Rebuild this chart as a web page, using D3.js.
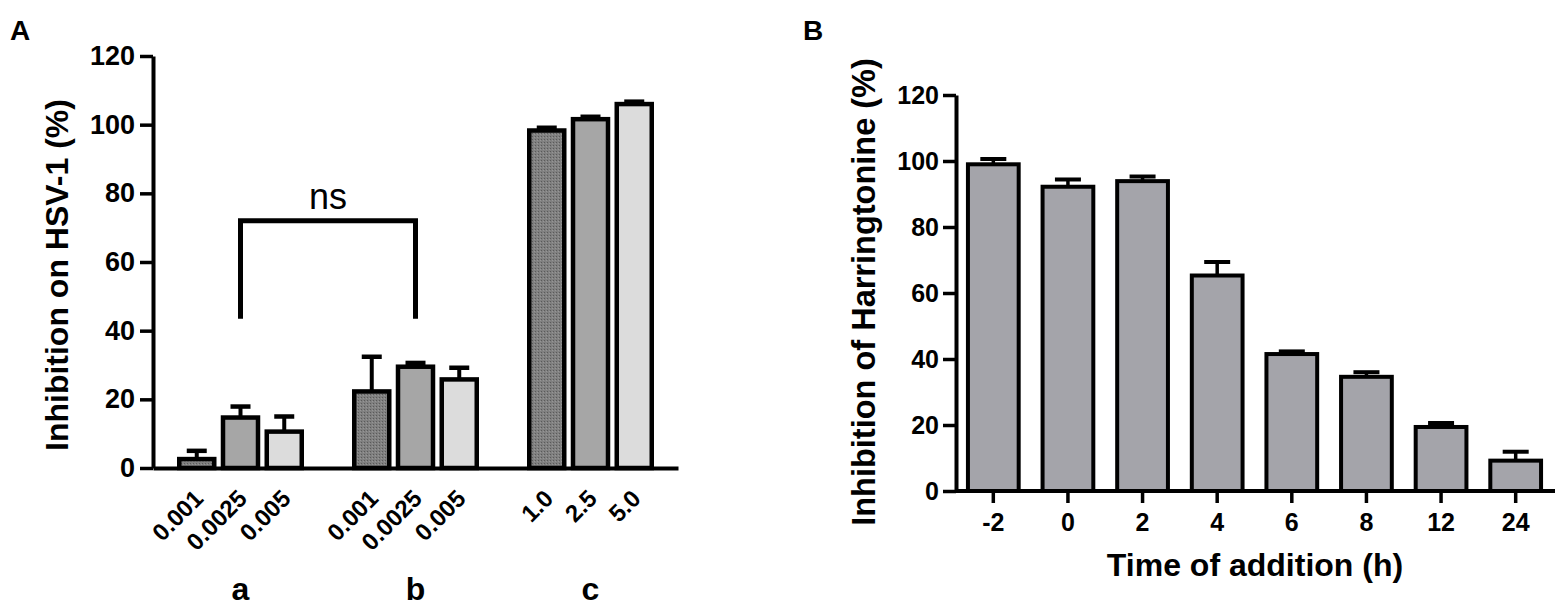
<!DOCTYPE html>
<html lang="en">
<head>
<meta charset="UTF-8">
<title>Inhibition charts</title>
<script src="https://cdnjs.cloudflare.com/ajax/libs/d3/7.8.5/d3.min.js"></script>
<style>
  * { margin: 0; padding: 0; }
  body { background: #fff; font-family: "Liberation Sans", Arial, sans-serif; }
  text { font-weight: bold; fill: #000; }
  text.ns { font-weight: normal; }
</style>
</head>
<body>
<svg id="chart" width="1562" height="608"></svg>
<script>
// ---- panel A data ----
const groupsA = ["a", "b", "c"];
const concLabels = [
  ["0.001", "0.0025", "0.005"],
  ["0.001", "0.0025", "0.005"],
  ["1.0", "2.5", "5.0"]
];
const meanA = [
  [2.6, 14.7, 10.6],
  [22.3, 29.5, 25.8],
  [98.3, 101.6, 106.0]
];
const semA = [
  [2.4, 3.2, 4.4],
  [10.1, 1.1, 3.4],
  [0.8, 0.7, 0.7]
];
const ticksA = [0, 20, 40, 60, 80, 100, 120];

// ---- panel B data ----
const timesB = ["-2", "0", "2", "4", "6", "8", "12", "24"];
const meanB = [99.0, 92.2, 93.9, 65.3, 41.5, 34.6, 19.4, 9.2];
const semB = [1.6, 2.2, 1.4, 4.1, 0.8, 1.4, 1.2, 2.7];
const ticksB = [0, 20, 40, 60, 80, 100, 120];

const svg = d3.select("#chart");

// stippled fill for the darkest bars
const pat = svg.append("defs").append("pattern")
  .attr("id", "stipple").attr("width", 3).attr("height", 3)
  .attr("patternUnits", "userSpaceOnUse");
pat.append("rect").attr("width", 3).attr("height", 3).attr("fill", "#808080");
pat.append("rect").attr("x", 1).attr("y", 1).attr("width", 1).attr("height", 1).attr("fill", "#5a5a5a");
pat.append("rect").attr("x", 0).attr("y", 2).attr("width", 1).attr("height", 1).attr("fill", "#969696");

const fillsA = ["url(#stipple)", "#a6a6a6", "#dcdcdc"];

function styleAxis(g, fs) {
  g.select(".domain").attr("stroke", "#000").attr("stroke-width", 4);
  g.selectAll(".tick line").attr("stroke", "#000").attr("stroke-width", 3.5);
  g.selectAll(".tick text")
    .attr("font-family", "'Liberation Sans', Arial, sans-serif")
    .attr("font-size", fs).attr("fill", "#000");
}

// ================= Panel A =================
const yA = d3.scaleLinear().domain([0, 120]).range([468, 56]);
const gx = d3.scaleBand().domain(groupsA).range([153, 678]);
const inner = d3.scaleBand().domain([0, 1, 2]).range([0, gx.bandwidth()])
  .paddingInner(0.2).paddingOuter(0.6);

svg.append("text").attr("x", 10).attr("y", 40).attr("font-size", 28).text("A");

const axA = svg.append("g").attr("transform", "translate(153,0)")
  .call(d3.axisLeft(yA).tickValues(ticksA).tickSize(13).tickSizeOuter(0).tickPadding(5));
styleAxis(axA, 27);

svg.append("text")
  .attr("transform", "translate(68,275) rotate(-90)")
  .attr("text-anchor", "middle").attr("font-size", 32)
  .text("Inhibition on HSV-1 (%)");

const barsA = [];
groupsA.forEach((g, gi) => {
  meanA[gi].forEach((v, i) => {
    barsA.push({ g, gi, i, v, e: semA[gi][i], label: concLabels[gi][i] });
  });
});
const cxA = d => gx(d.g) + inner(d.i) + inner.bandwidth() / 2;

const gA = svg.append("g");
// error bars (upper only)
gA.selectAll("line.err").data(barsA).join("line")
  .attr("x1", cxA).attr("x2", cxA)
  .attr("y1", d => yA(d.v)).attr("y2", d => yA(d.v + d.e))
  .attr("stroke", "#000").attr("stroke-width", 4);
gA.selectAll("line.cap").data(barsA).join("line")
  .attr("x1", d => cxA(d) - 10).attr("x2", d => cxA(d) + 10)
  .attr("y1", d => yA(d.v + d.e)).attr("y2", d => yA(d.v + d.e))
  .attr("stroke", "#000").attr("stroke-width", 4.5);
gA.selectAll("rect").data(barsA).join("rect")
  .attr("x", d => gx(d.g) + inner(d.i))
  .attr("y", d => yA(d.v))
  .attr("width", inner.bandwidth())
  .attr("height", d => yA(0) - yA(d.v))
  .attr("fill", d => fillsA[d.i])
  .attr("stroke", "#000").attr("stroke-width", 4.5);

// x axis line + group letters
const axAx = svg.append("g").attr("transform", "translate(0,468)")
  .call(d3.axisBottom(gx).tickSize(0).tickSizeOuter(0).tickPadding(0));
styleAxis(axAx, 32);
axAx.selectAll(".tick text").attr("dy", null).attr("y", 132);

// concentration labels, rotated
gA.selectAll("text.conc").data(barsA).join("text")
  .attr("class", "conc")
  .attr("transform", d => `translate(${cxA(d) + 8},${yA(0) + 32}) rotate(-45)`)
  .attr("text-anchor", "end").attr("font-size", 24)
  .text(d => d.label);

// significance bracket
const brL = gx("a") + inner(1) + inner.bandwidth() / 2;
const brR = gx("b") + inner(1) + inner.bandwidth() / 2;
svg.append("path")
  .attr("d", d3.line()([[brL, yA(43.5)], [brL, yA(72)], [brR, yA(72)], [brR, yA(43.5)]]))
  .attr("fill", "none").attr("stroke", "#000").attr("stroke-width", 5);
svg.append("text").attr("class", "ns")
  .attr("x", (brL + brR) / 2).attr("y", yA(75.5))
  .attr("text-anchor", "middle").attr("font-size", 36)
  .text("ns");

// ================= Panel B =================
const yB = d3.scaleLinear().domain([0, 120]).range([491, 95]);
const xB = d3.scaleBand().domain(timesB).range([956, 1553]).paddingInner(0.32).paddingOuter(0.16);

svg.append("text").attr("x", 803).attr("y", 40).attr("font-size", 28).text("B");

const axB = svg.append("g").attr("transform", "translate(956,0)")
  .call(d3.axisLeft(yB).tickValues(ticksB).tickSize(13).tickSizeOuter(0).tickPadding(4));
styleAxis(axB, 25);

svg.append("text")
  .attr("transform", "translate(875,292) rotate(-90)")
  .attr("text-anchor", "middle").attr("font-size", 32.5)
  .text("Inhibition of Harringtonine (%)");

const barsB = timesB.map((t, i) => ({ t, v: meanB[i], e: semB[i] }));
const cxB = d => xB(d.t) + xB.bandwidth() / 2;
const gB = svg.append("g");
gB.selectAll("line.err").data(barsB).join("line")
  .attr("x1", cxB).attr("x2", cxB)
  .attr("y1", d => yB(d.v)).attr("y2", d => yB(d.v + d.e))
  .attr("stroke", "#000").attr("stroke-width", 3.5);
gB.selectAll("line.cap").data(barsB).join("line")
  .attr("x1", d => cxB(d) - 13).attr("x2", d => cxB(d) + 13)
  .attr("y1", d => yB(d.v + d.e)).attr("y2", d => yB(d.v + d.e))
  .attr("stroke", "#000").attr("stroke-width", 4);
gB.selectAll("rect").data(barsB).join("rect")
  .attr("x", d => xB(d.t))
  .attr("y", d => yB(d.v))
  .attr("width", xB.bandwidth())
  .attr("height", d => yB(0) - yB(d.v))
  .attr("fill", "#a4a4aa")
  .attr("stroke", "#000").attr("stroke-width", 4);

const axBx = svg.append("g").attr("transform", "translate(0,491)")
  .call(d3.axisBottom(xB).tickSize(12).tickSizeOuter(0).tickPadding(10));
styleAxis(axBx, 25);
axBx.select(".domain").attr("d", "M956,0H1555");

svg.append("text")
  .attr("x", 1255).attr("y", 576)
  .attr("text-anchor", "middle").attr("font-size", 32)
  .text("Time of addition (h)");
</script>
</body>
</html>
